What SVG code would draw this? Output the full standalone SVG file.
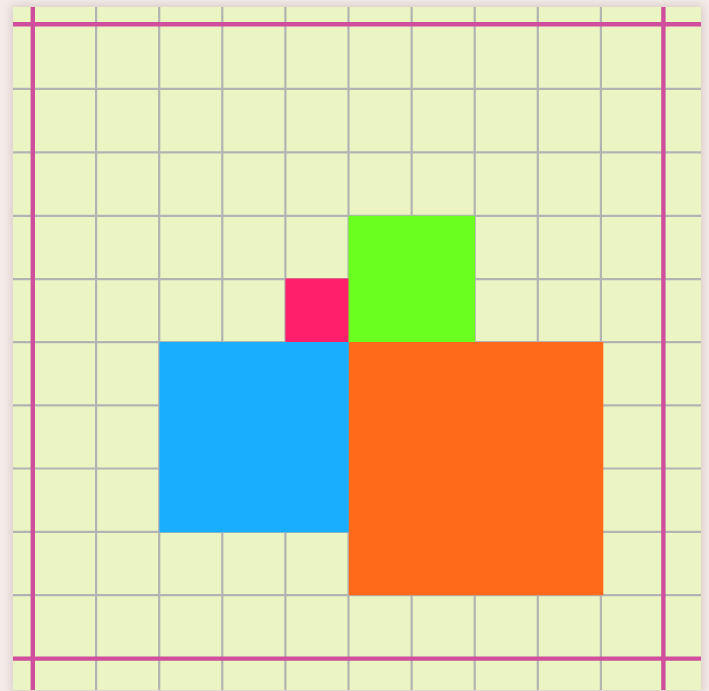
<svg xmlns="http://www.w3.org/2000/svg" width="709" height="691" viewBox="0 0 709 691">
<defs>
<filter id="sh" x="-10%" y="-10%" width="120%" height="120%"><feGaussianBlur stdDeviation="5"/></filter>
<style>
.g{stroke:#b3b3b3;stroke-width:2.2;fill:none}
.m{stroke:#cf4f9d;stroke-width:4.4;fill:none}
</style>
</defs>
<rect width="709" height="691" fill="#f3edea"/>
<rect x="11" y="5" width="692" height="688" fill="#d9c9c4" filter="url(#sh)"/>
<rect x="13" y="7" width="688" height="683" fill="#ebf4c3"/>
<g id="grid">
<path class="g" d="M96.1 7V690M159.2 7V690M222.3 7V690M285.4 7V690M348.5 7V690M411.6 7V690M474.7 7V690M537.8 7V690M600.9 7V690"/>
<path class="g" d="M13 88.9H701M13 152.3H701M13 215.8H701M13 279.2H701M13 342.1H701M13 405.3H701M13 468.5H701M13 531.8H701M13 595.1H701"/>
<path class="m" d="M32.8 7V690M663.4 7V690M13 24.2H701M13 658.6H701"/>
</g>
<g id="red"><rect x="285.4" y="278.5" width="63.5" height="63.6" fill="#ff1f6b"/></g>
<g id="green"><rect x="348.5" y="215.8" width="126.5" height="126.3" fill="#6aff1e"/></g>
<g id="blue"><rect x="159.4" y="342" width="189.5" height="190.3" fill="#1aaeff"/></g>
<g id="orange"><rect x="348.8" y="342" width="254.5" height="253.2" fill="#ff6a1a"/></g>
</svg>
